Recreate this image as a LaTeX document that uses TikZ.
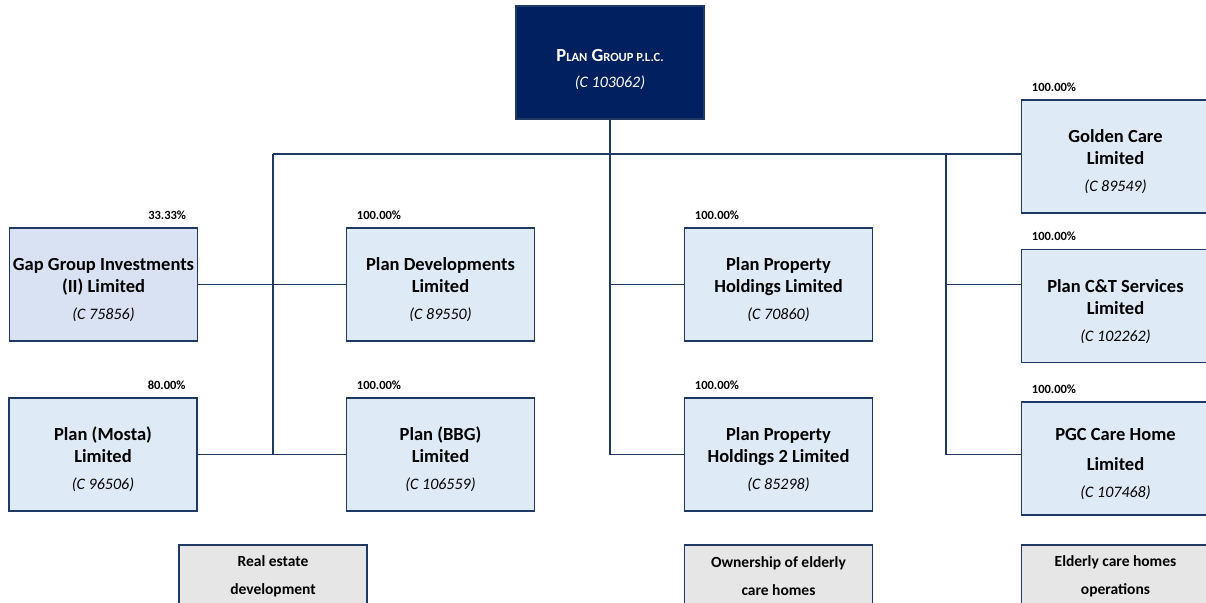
\documentclass[tikz,border=0pt]{standalone}
\usepackage{fontspec}
\setmainfont{Carlito}
\usepackage{tikz}
\definecolor{navy}{HTML}{1F3864}
\definecolor{plcblue}{HTML}{002060}
\definecolor{boxblue}{HTML}{DEEAF6}
\definecolor{jvblue}{HTML}{D9E2F3}
\definecolor{actgrey}{HTML}{E7E6E6}
\newcommand{\regno}[1]{{\fontsize{16}{20}\selectfont\mdseries\itshape (C #1)}}
\newcommand{\lowerby}[1]{\rule{0pt}{#1}}

\begin{document}
\begin{tikzpicture}[x=1pt,y=-1pt]
	\tikzstyle{every node}=[inner sep=0pt]
	\tikzstyle{company}=[rectangle,draw=navy,line width=1.5pt,fill=boxblue,minimum width=188pt,minimum height=113pt,align=center,font=\fontsize{18.5}{22}\selectfont\bfseries]
	\tikzstyle{parent}=[company,fill=plcblue,text=white]
	\tikzstyle{activity}=[company,fill=actgrey,minimum height=62pt,font=\fontsize{15.5}{28}\selectfont\bfseries]
	\tikzstyle{pct}=[font=\fontsize{12.5}{14}\selectfont\bfseries]
	\tikzstyle{link}=[draw=navy,line width=1.5pt]
	\useasboundingbox (0,0) rectangle (1206,602);
	% holding company
	\node[parent] (plc) at (610,62.5) {\lowerby{27pt}P{\fontsize{12.5}{14}\selectfont LAN} G{\fontsize{12.5}{14}\selectfont ROUP P.L.C.}\\[4pt]\regno{103062}};
	% real estate
	\node[company,fill=jvblue] (gap) at (103.5,284.5) {\lowerby{24pt}Gap Group Investments\\(II) Limited\\[5pt]\regno{75856}};
	\node[company] (dev) at (440.5,284.5) {\lowerby{24pt}Plan Developments\\Limited\\[5pt]\regno{89550}};
	\node[company] (mosta) at (103,454.5) {\lowerby{24pt}Plan (Mosta)\\Limited\\[5pt]\regno{96506}};
	\node[company] (bbg) at (440.5,454.5) {\lowerby{24pt}Plan (BBG)\\Limited\\[5pt]\regno{106559}};
	% property
	\node[company] (pph) at (778.5,284.5) {\lowerby{24pt}Plan Property\\Holdings Limited\\[5pt]\regno{70860}};
	\node[company] (pphtwo) at (778.5,454.5) {\lowerby{24pt}Plan Property\\Holdings 2 Limited\\[5pt]\regno{85298}};
	% care
	\node[company] (golden) at (1115.5,156.5) {\lowerby{24pt}Golden Care\\Limited\\[5pt]\regno{89549}};
	\node[company] (ct) at (1115.5,306) {\lowerby{24pt}Plan C\&T Services\\Limited\\[5pt]\regno{102262}};
	\node[company] (pgc) at (1115.5,458.5) {\lowerby{24pt}PGC Care Home\\[8pt]Limited\\[5pt]\regno{107468}};
	% holdings
	\node[pct,anchor=base east] at ([xshift=-12pt,yshift=8pt]gap.north east) {33.33\%};
	\node[pct,anchor=base east] at ([xshift=-12pt,yshift=8pt]mosta.north east) {80.00\%};
	\foreach \n in {dev,bbg,pph,pphtwo,golden,ct,pgc}
		\node[pct,anchor=base west] at ([xshift=11pt,yshift=8pt]\n.north west) {100.00\%};
	% activities
	\node[activity] (realestate) at (273,576) {Real estate\\development};
	\node[activity] (ownership) at (778.5,576) {Ownership of elderly\\care homes};
	\node[activity] (operations) at (1115.5,576) {Elderly care homes\\operations};
	% connectors
	\coordinate (busL) at (273,154);
	\coordinate (busR) at (946,154);
	\draw[link] (busL) -- (busL -| golden.west);
	\draw[link] (plc.south) |- (pphtwo.west);
	\draw[link] (plc.south |- pph.west) -- (pph.west);
	\draw[link] (busL) -- (busL |- mosta.east);
	\draw[link] (gap.east) -- (dev.west);
	\draw[link] (mosta.east) -- (bbg.west);
	\draw[link] (busR) -- (busR |- pphtwo.east) -- (pphtwo.east -| pgc.west);
	\draw[link] (busR |- pph.east) -- (pph.east -| ct.west);
\end{tikzpicture}
\end{document}
